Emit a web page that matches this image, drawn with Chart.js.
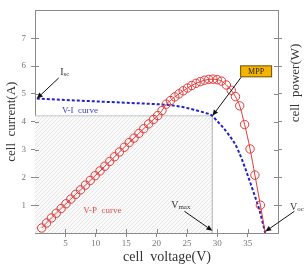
<!DOCTYPE html>
<html>
<head>
<meta charset="utf-8">
<script src="https://cdn.jsdelivr.net/npm/chart.js@4.4.0/dist/chart.umd.min.js"></script>
<style>
    html, body { margin: 0; padding: 0; background: #fff; }
    #wrap { width: 307px; height: 266px; }
</style>
</head>
<body>
<div id="wrap"><canvas id="pvChart" width="307" height="266"></canvas></div>
<script>
// ==================== DATA ====================

// V-I curve (cell current, A)
const viVoltage = [0.3, 5, 10, 15, 20, 22, 24, 26, 27, 28, 29.2, 30, 31, 32, 33, 34, 35, 36, 37, 37.9];
const viCurrent = [4.83, 4.78, 4.73, 4.68, 4.63, 4.60, 4.54, 4.44, 4.38, 4.32, 4.21, 4.02, 3.78, 3.50, 3.17, 2.68, 2.08, 1.45, 0.78, 0];

// V-P curve (drawn against the same grid as the current axis)
const vpVoltage = [1.1, 1.9, 2.7, 3.5, 4.3, 5.1, 5.9, 6.7, 7.5, 8.3, 9.1, 9.9, 10.7, 11.5, 12.3, 13.1,
    13.9, 14.7, 15.5, 16.3, 17.1, 17.9, 18.7, 19.5, 20.2, 20.9, 21.6, 22.3, 23.0, 23.7, 24.4, 25.1,
    25.8, 26.5, 27.2, 27.9, 28.6, 29.3, 30.0, 30.7, 31.5, 32.3, 33.0, 33.7, 34.5, 35.4, 36.2, 37.1, 37.9];
const vpPower = [0.18, 0.36, 0.54, 0.71, 0.88, 1.05, 1.22, 1.39, 1.55, 1.72, 1.89, 2.06, 2.23, 2.40, 2.57, 2.74,
    2.91, 3.08, 3.25, 3.41, 3.58, 3.75, 3.92, 4.08, 4.22, 4.40, 4.63, 4.76, 4.89, 5.00, 5.11, 5.21,
    5.30, 5.38, 5.44, 5.49, 5.52, 5.53, 5.51, 5.46, 5.32, 5.13, 4.90, 4.57, 3.90, 3.02, 2.08, 1.00, 0];

// maximum power point
const mppVoltage = 29.2;
const mppCurrent = 4.21;
const vocVoltage = 37.9;

const xTicks = [5, 10, 15, 20, 25, 30, 35];
const yTicks = [1, 2, 3, 4, 5, 6, 7];

// ==================== HELPERS ====================

const SERIF = '"Liberation Serif", "DejaVu Serif", serif';

function toPoints(xs, ys) {
    return xs.map((x, i) => ({ x: x, y: ys[i] }));
}

function makeHatch(ctx) {
    const tile = document.createElement('canvas');
    tile.width = 4;
    tile.height = 4;
    const g = tile.getContext('2d');
    g.fillStyle = '#fafafa';
    g.fillRect(0, 0, 4, 4);
    g.strokeStyle = '#e0e0e0';
    g.lineWidth = 0.8;
    g.beginPath();
    g.moveTo(-1, 5); g.lineTo(5, -1);
    g.moveTo(-1, 1); g.lineTo(1, -1);
    g.moveTo(3, 5); g.lineTo(5, 3);
    g.stroke();
    return ctx.createPattern(tile, 'repeat');
}

function drawArrow(ctx, x1, y1, x2, y2) {
    const ang = Math.atan2(y2 - y1, x2 - x1);
    const len = 6, wid = 2.6;
    ctx.save();
    ctx.strokeStyle = '#111';
    ctx.fillStyle = '#111';
    ctx.lineWidth = 1;
    ctx.beginPath();
    ctx.moveTo(x1, y1);
    ctx.lineTo(x2 - Math.cos(ang) * len, y2 - Math.sin(ang) * len);
    ctx.stroke();
    ctx.beginPath();
    ctx.moveTo(x2, y2);
    ctx.lineTo(x2 - Math.cos(ang) * len - Math.sin(ang) * wid, y2 - Math.sin(ang) * len + Math.cos(ang) * wid);
    ctx.lineTo(x2 - Math.cos(ang) * len + Math.sin(ang) * wid, y2 - Math.sin(ang) * len - Math.cos(ang) * wid);
    ctx.closePath();
    ctx.fill();
    ctx.restore();
}

// main letter + subscript, centred on (x, y)
function drawSubLabel(ctx, main, sub, x, y) {
    ctx.save();
    ctx.fillStyle = '#333';
    ctx.textAlign = 'left';
    ctx.textBaseline = 'alphabetic';
    ctx.font = '10px ' + SERIF;
    const w1 = ctx.measureText(main).width;
    ctx.font = '7px ' + SERIF;
    const w2 = ctx.measureText(sub).width;
    const left = x - (w1 + w2) / 2;
    ctx.font = '10px ' + SERIF;
    ctx.fillText(main, left, y + 3.5);
    ctx.font = '7px ' + SERIF;
    ctx.fillText(sub, left + w1, y + 4.5);
    ctx.restore();
}

// ==================== PLUGIN: ticks, frame, labels ====================

const decorations = {
    id: 'decorations',
    afterDraw(chart) {
        const ctx = chart.ctx;
        const xs = chart.scales.x;
        const ys = chart.scales.y;
        const area = chart.chartArea;
        const px = v => xs.getPixelForValue(v);
        const py = v => ys.getPixelForValue(v);

        ctx.save();
        // top frame line
        ctx.strokeStyle = '#8a8a8a';
        ctx.lineWidth = 1;
        ctx.beginPath();
        ctx.moveTo(area.left, Math.round(area.top) + 0.5);
        ctx.lineTo(area.right, Math.round(area.top) + 0.5);
        ctx.stroke();

        // inner part of tick marks
        ctx.beginPath();
        xTicks.forEach(v => {
            const x = Math.round(px(v)) + 0.5;
            ctx.moveTo(x, area.bottom);
            ctx.lineTo(x, area.bottom - 4);
        });
        yTicks.forEach(v => {
            const y = Math.round(py(v)) + 0.5;
            ctx.moveTo(area.left, y);
            ctx.lineTo(area.left + 4, y);
            ctx.moveTo(area.right, y);
            ctx.lineTo(area.right - 4, y);
        });
        ctx.stroke();

        // axis titles
        ctx.fillStyle = '#333';
        ctx.textAlign = 'center';
        ctx.textBaseline = 'middle';
        ctx.font = '14px ' + SERIF;
        ctx.fillText('cell  voltage(V)', 167, 257);

        ctx.font = '13px ' + SERIF;
        ctx.save();
        ctx.translate(12, (area.top + area.bottom) / 2);
        ctx.rotate(-Math.PI / 2);
        ctx.fillText('cell  current(A)', 0, 0);
        ctx.restore();

        ctx.save();
        ctx.translate(296, 83);
        ctx.rotate(-Math.PI / 2);
        ctx.fillText('cell  power(W)', 0, 0);
        ctx.restore();

        // curve names
        ctx.font = '9px ' + SERIF;
        ctx.fillStyle = '#3a3acc';
        ctx.fillText('V-I  curve', px(7.4), py(4.4));
        ctx.fillStyle = '#e05050';
        ctx.fillText('V-P  curve', px(11.1), py(0.8));

        // Isc
        drawSubLabel(ctx, 'I', 'sc', px(4.9), py(5.81));
        drawArrow(ctx, px(3.9), py(5.57), px(0.3), py(4.83));

        // MPP box
        const bx = px(36.4), by = py(5.81);
        ctx.fillStyle = '#f4b400';
        ctx.strokeStyle = '#6b5200';
        ctx.lineWidth = 1;
        ctx.fillRect(bx - 15.5, by - 5.5, 31, 11);
        ctx.strokeRect(bx - 15.5, by - 5.5, 31, 11);
        ctx.fillStyle = '#222';
        ctx.font = '8px ' + SERIF;
        ctx.fillText('MPP', bx, by + 0.5);
        drawArrow(ctx, bx - 15, by + 6, px(mppVoltage), py(mppCurrent));

        // Vmax / Voc
        drawSubLabel(ctx, 'V', 'max', px(24.0), py(1.02));
        drawArrow(ctx, px(24.6), py(0.78), px(mppVoltage), py(0.08));
        drawSubLabel(ctx, 'V', 'oc', px(43.1), py(0.95));
        drawArrow(ctx, px(42.7), py(0.78), px(vocVoltage), py(0.05));

        ctx.restore();
    }
};

// ==================== CHART ====================

const canvas = document.getElementById('pvChart');
const hatch = makeHatch(canvas.getContext('2d'));

const axisGrid = { drawOnChartArea: false, tickLength: 4, color: '#8a8a8a', lineWidth: 1 };
const axisBorder = { color: '#8a8a8a', width: 1 };
const tickFont = { family: SERIF, size: 9 };

new Chart(canvas, {
    type: 'scatter',
    data: {
        datasets: [
            {
                label: 'V-P curve',
                data: toPoints(vpVoltage, vpPower),
                showLine: true,
                borderColor: '#e23a3a',
                borderWidth: 1,
                pointRadius: vpVoltage.map((v, i) => i === vpVoltage.length - 1 ? 0 : 4.2),
                pointBorderColor: '#e23a3a',
                pointBackgroundColor: 'rgba(0,0,0,0)',
                pointBorderWidth: 1,
                cubicInterpolationMode: 'monotone',
                order: 1
            },
            {
                label: 'V-I curve',
                data: toPoints(viVoltage, viCurrent),
                showLine: true,
                borderColor: '#2222c8',
                borderWidth: 2,
                borderDash: [3, 2],
                pointRadius: 0,
                cubicInterpolationMode: 'monotone',
                order: 2
            },
            {
                label: 'MPP area',
                data: toPoints([0, mppVoltage, mppVoltage], [mppCurrent, mppCurrent, 0]),
                showLine: true,
                borderColor: '#c4c4c4',
                borderWidth: 1,
                backgroundColor: hatch,
                fill: 'origin',
                pointRadius: 0,
                tension: 0,
                order: 3
            }
        ]
    },
    options: {
        responsive: false,
        animation: false,
        events: [],
        layout: { padding: { top: 6, left: 0, right: 0, bottom: 0 } },
        plugins: {
            legend: { display: false },
            tooltip: { enabled: false }
        },
        scales: {
            x: {
                type: 'linear',
                position: 'bottom',
                min: 0,
                max: 40,
                afterBuildTicks: s => { s.ticks = xTicks.map(v => ({ value: v })); },
                afterFit: s => { s.height = 33; },
                ticks: { font: tickFont, color: '#777', padding: 1, maxRotation: 0 },
                grid: axisGrid,
                border: axisBorder
            },
            y: {
                type: 'linear',
                position: 'left',
                min: 0,
                max: 8,
                afterBuildTicks: s => { s.ticks = yTicks.map(v => ({ value: v })); },
                afterFit: s => { s.width = 35; },
                ticks: { font: tickFont, color: '#777', padding: 5 },
                grid: axisGrid,
                border: axisBorder
            },
            y2: {
                type: 'linear',
                position: 'right',
                min: 0,
                max: 8,
                afterBuildTicks: s => { s.ticks = yTicks.map(v => ({ value: v })); },
                afterFit: s => { s.width = 29; },
                ticks: { display: false },
                grid: axisGrid,
                border: axisBorder
            }
        }
    },
    plugins: [decorations]
});
</script>
</body>
</html>
